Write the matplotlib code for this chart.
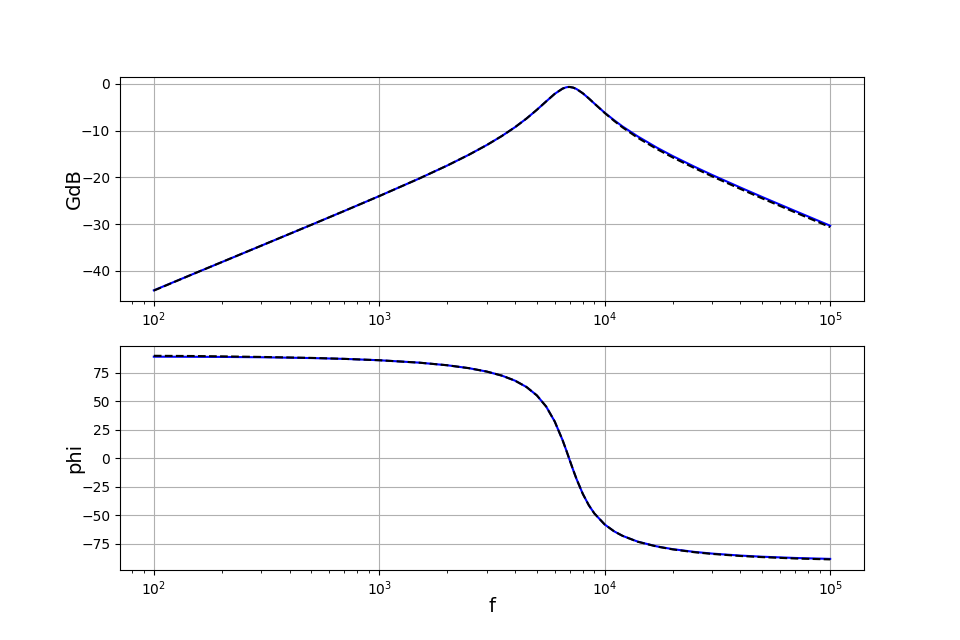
import matplotlib
matplotlib.use("Agg")
import matplotlib.pyplot as plt

freq = [100, 150, 200, 300, 500, 700, 1000, 1500, 2000, 2500, 3000, 3500, 4000,
        4500, 5000, 5500, 6000, 6500, 6750, 6900, 7000, 7250, 7500, 8000, 8500,
        9000, 10000, 11000, 12000, 14000, 17000, 20000, 25000, 30000, 40000,
        50000, 70000, 100000]

gdb_blue = [-44.14, -40.61, -38.11, -34.58, -30.12, -27.16, -23.98, -20.25, -17.46,
            -15.13, -13.06, -11.12, -9.25, -7.39, -5.53, -3.73, -2.12, -1.00, -0.72,
            -0.65, -0.65, -0.79, -1.09, -2.01, -3.10, -4.20, -6.16, -7.74, -9.10,
            -11.21, -13.60, -15.41, -17.70, -19.48, -22.16, -24.19, -27.18, -30.32]

gdb_black = [-44.20, -40.61, -38.11, -34.58, -30.12, -27.16, -23.98, -20.25, -17.46,
             -15.13, -13.06, -11.12, -9.25, -7.39, -5.53, -3.73, -2.12, -1.00, -0.72,
             -0.65, -0.65, -0.79, -1.09, -2.01, -3.10, -4.20, -6.21, -7.89, -9.30,
             -11.51, -13.90, -15.71, -18.00, -19.78, -22.46, -24.49, -27.48, -30.62]

phi_blue = [89.2, 89.1, 89.0, 88.7, 88.0, 87.29, 86.09, 83.99, 81.70, 79.12, 76.14,
            72.58, 68.19, 62.58, 55.25, 45.44, 32.38, 16.07, 7.16, 1.78, -1.76,
            -10.30, -18.15, -31.26, -41.07, -48.34, -57.98, -63.93, -67.93, -72.97,
            -77.14, -79.58, -82.02, -83.50, -85.24, -86.23, -87.33, -88.14]

phi_black = [90.0, 89.8, 89.5, 89.0, 88.15, 87.29, 86.09, 83.99, 81.70, 79.12, 76.14,
             72.58, 68.19, 62.58, 55.25, 45.44, 32.38, 16.07, 7.16, 1.78, -1.76,
             -10.30, -18.15, -31.26, -41.07, -48.34, -57.98, -63.93, -67.93, -73.1,
             -77.3, -79.8, -82.3, -83.8, -85.6, -86.6, -87.8, -88.6]

fig, (ax1, ax2) = plt.subplots(2, 1, figsize=(9.6, 6.4), dpi=100)

ax1.semilogx(freq, gdb_blue, color='b', linewidth=1.5)
ax1.semilogx(freq, gdb_black, 'k--', linewidth=1.5)
ax1.set_ylabel('GdB', fontsize=14, labelpad=-2)
ax1.grid(True)

ax2.semilogx(freq, phi_blue, color='b', linewidth=1.5)
ax2.semilogx(freq, phi_black, 'k--', linewidth=1.5)
ax2.set_ylabel('phi', fontsize=14, labelpad=-2)
ax2.set_xlabel('f', fontsize=14, labelpad=-1)
ax2.grid(True)

fig.savefig('out.png', dpi=100)
